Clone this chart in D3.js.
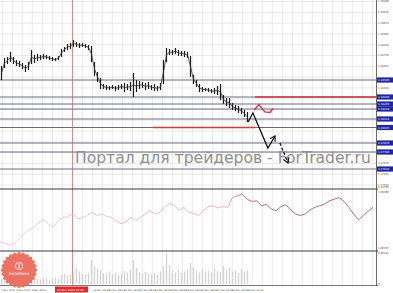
<html><head>
<script src="https://d3js.org/d3.v7.min.js"></script>
<style>
  body { margin: 0; background: #fff; }
  .tick line { stroke: #e2e2e2; stroke-width: 0.8px; }
  .domain { display: none; }
  text { font-family: "DejaVu Sans", sans-serif; }
</style>
</head>
<body>
<script>
// bar highs / lows (price), one bar every index
const barHigh = [1.1864,1.1872,1.1873,1.1878,1.1873,1.1870,1.1869,1.1867,1.1865,1.1868,
  1.1880,1.1875,1.1876,1.1875,1.1876,1.1875,1.1874,1.1873,1.1872,1.1874,
  1.1881,1.1883,1.1886,1.1887,1.1890,1.1888,1.1887,1.1887,1.1886,1.1885,
  1.1884,1.1868,1.1858,1.1852,1.1846,1.1845,1.1844,1.1845,1.1844,1.1845,
  1.1846,1.1847,1.1846,1.1848,1.1857,1.1850,1.1849,1.1848,1.1847,1.1848,
  1.1845,1.1846,1.1844,1.1847,1.1870,1.1882,1.1881,1.1880,1.1882,1.1880,
  1.1879,1.1879,1.1878,1.1874,1.1855,1.1850,1.1846,1.1843,1.1842,1.1842,
  1.1841,1.1842,1.1844,1.1846,1.1835,1.1832,1.1832,1.1827,1.1825,1.1824,
  1.1822,1.1820,1.1818]
const barLow = [1.1850,1.1862,1.1866,1.1868,1.1866,1.1864,1.1863,1.1861,1.1858,1.1860,
  1.1866,1.1867,1.1869,1.1870,1.1871,1.1871,1.1870,1.1869,1.1869,1.1870,
  1.1873,1.1878,1.1880,1.1881,1.1883,1.1883,1.1882,1.1883,1.1882,1.1880,
  1.1868,1.1854,1.1848,1.1841,1.1841,1.1840,1.1840,1.1841,1.1839,1.1840,
  1.1841,1.1838,1.1840,1.1839,1.1833,1.1838,1.1841,1.1842,1.1840,1.1841,
  1.1840,1.1839,1.1839,1.1840,1.1846,1.1868,1.1875,1.1875,1.1876,1.1874,
  1.1874,1.1873,1.1872,1.1853,1.1846,1.1843,1.1838,1.1838,1.1839,1.1838,
  1.1837,1.1836,1.1835,1.1830,1.1826,1.1824,1.1822,1.1820,1.1819,1.1817,
  1.1816,1.1813,1.1808]
const volumes = [420,510,380,560,470,390,520,610,450,380,720,540,480,430,520,460,390,500,560,480,
  820,950,760,880,1020,1500,1180,960,870,1090,
  2250,1650,1420,1280,1050,980,1160,920,1040,870,
  960,1230,1080,1340,2250,1520,1100,980,1150,1010,
  920,1060,880,1190,1650,2900,1750,1240,1090,1310,
  1020,1180,1370,1970,1540,1260,1100,1350,1180,1240,
  1090,1450,1210,1130,1680,1320,1500,1160,1280,1050,1390,1170,1240]
// indicator line (0..100 pane units)
const indicator = [13.9,11.1,8.4,11.1,19.5,27.8,34.5,38.9,47.3,51.1,44.5,38.9,50.0,54.5,56.7,61.1,
  52.8,54.5,58.4,63.9,58.4,61.1,56.7,55.6,48.9,44.5,47.3,55.6,50.0,55.6,61.1,66.7,61.1,63.9,
  72.3,78.9,75.0,67.8,72.3,63.9,62.3,58.4,66.7,73.4,75.0,71.1,73.4,72.3,88.9,91.7,94.5,86.1,
  82.3,83.4,75.0,77.8,69.5,66.7,73.4,76.7,67.8,61.1,58.4,61.1,67.8,72.3,75.0,77.8,83.4,86.1,
  88.9,82.3,72.3,61.1,51.1,58.4,65.6,72.3]

const priceTicks = [1.19290,1.19182,1.19074,1.18966,1.18858,1.18750,1.18642,1.18534,1.18426,
  1.18318,1.18210,1.18102,1.17994,1.17886,1.17778,1.17670,1.17562,1.17454]
const levelPrices = [1.1850,1.1833,1.1826,1.1821,1.1811,1.18025,1.1787,1.1778,1.1761]
const levelLabels = ["1.18500","1.18330","1.18260","1.18210","1.18110","1.18025","1.17870","1.17780","1.17610"]
const redFrom = [84.5, 50.5]
const redTo = [125, 84.5]
const redPrice = [1.1833, 1.18025]
const forecastSolid = [[82.2,1.1808],[83.8,1.1817],[88.8,1.1782],[91.2,1.1794]]
const forecastDashed = [[92.8,1.1787],[95.5,1.1767]]
const altPath = [[84.2,1.1820],[85.8,1.18255],[87.8,1.1818],[89.5,1.18175],[90.5,1.18215]]
const timeLabels = ["4 Nov 2020","5 Nov 2020","6 Nov 08:00","9 Nov 00:00","9 Nov 16:00","10 Nov 08:00",
  "10 Nov 16:00","11 Nov 08:00","11 Nov 16:00","12 Nov 08:00","12 Nov 16:00","13 Nov 08:00",
  "13 Nov 16:00","14 Nov 08:00","14 Nov 16:00","15 Nov 16:00","16 Nov 00:00"]
const markedTime = "10 Nov 2020 00:00"
const indLabels = ["1.14795","1.09399","1.00197","0.00241"]

const W = 393, H = 293, plotR = 376
const svg = d3.select("body").append("svg").attr("width", W).attr("height", H)

// scales
const x = d3.scaleLinear().domain([0, 125]).range([1.5, 376.5])
const yMain = d3.scaleLinear().domain([1.1742, 1.1930]).range([188, 0])
const xInd = d3.scaleLinear().domain([0, indicator.length - 1]).range([0, 373])
const yInd = d3.scaleLinear().domain([0, 100]).range([250, 191])
const yVol = d3.scaleLinear().domain([0, 3000]).range([284, 252])

// vertical grid
svg.append("g").selectAll("line").data(d3.range(2.3, plotR, 10)).join("line")
  .attr("x1", d => d).attr("x2", d => d).attr("y1", 0).attr("y2", 285)
  .attr("stroke", "#e4e4e4").attr("stroke-width", 0.8)

// horizontal grid + price labels (labels hidden under level tags)
const nearTag = p => levelPrices.some(l => Math.abs(yMain(l) - yMain(p)) < 4)
svg.append("g").attr("transform", "translate(" + plotR + ",0)")
  .call(d3.axisRight(yMain).tickValues(priceTicks).tickSize(-plotR).tickPadding(2)
    .tickFormat(d => nearTag(d) ? "" : d.toFixed(5)))
  .selectAll("text").attr("font-size", 2.6).attr("fill", "#444")

// level lines
svg.append("g").selectAll("line").data(levelPrices).join("line")
  .attr("x1", 0).attr("x2", plotR).attr("y1", d => yMain(d)).attr("y2", d => yMain(d))
  .attr("stroke", "#6a6a86").attr("stroke-width", 1)

svg.append("g").selectAll("line").data(redPrice).join("line")
  .attr("x1", (d, i) => x(redFrom[i])).attr("x2", (d, i) => Math.min(plotR, x(redTo[i])))
  .attr("y1", d => yMain(d)).attr("y2", d => yMain(d))
  .attr("stroke", "#cc3b3b").attr("stroke-width", 1.5)

// separator vertical line
svg.append("line").attr("x1", 72.6).attr("x2", 72.6).attr("y1", 0).attr("y2", 285)
  .attr("stroke", "#b97272").attr("stroke-width", 0.8)

// watermark, squeezed horizontally to fit 75..371
const wm = svg.append("text").attr("x", 0).attr("y", 0)
  .attr("font-size", 16.5).attr("fill", "#8e8e8e")
  .text("Портал для трейдеров - ForTrader.ru")
const wmLen = wm.node().getComputedTextLength()
wm.attr("transform", "translate(75,163) scale(" + (296 / wmLen) + ",1)")

// bars
const bars = svg.append("g")
bars.selectAll("line").data(barHigh).join("line")
  .attr("x1", (d, i) => x(i)).attr("x2", (d, i) => x(i))
  .attr("y1", d => yMain(d)).attr("y2", (d, i) => yMain(barLow[i]))
  .attr("stroke", "#1a1a1a").attr("stroke-width", 1.2)
bars.append("path")
  .attr("d", d3.line().x((d, i) => x(i)).y((d, i) => yMain((d + barLow[i]) / 2))(barHigh))
  .attr("fill", "none").attr("stroke", "#333").attr("stroke-width", 0.8)

// forecast arrows
const defs = svg.append("defs")
defs.append("marker").attr("id", "arr").attr("markerUnits", "userSpaceOnUse")
  .attr("markerWidth", 8).attr("markerHeight", 8).attr("refX", 6).attr("refY", 4)
  .attr("orient", "auto")
  .append("path").attr("d", "M1,1 L6,4 L1,7").attr("fill", "none")
  .attr("stroke", "#111").attr("stroke-width", 1.1)

const pline = d3.line().x(d => x(d[0])).y(d => yMain(d[1]))
svg.append("path").attr("d", pline(forecastSolid)).attr("fill", "none")
  .attr("stroke", "#111").attr("stroke-width", 1.3).attr("marker-end", "url(#arr)")
svg.append("path").attr("d", pline(forecastDashed)).attr("fill", "none")
  .attr("stroke", "#111").attr("stroke-width", 1.3).attr("stroke-dasharray", "3,2")
  .attr("marker-end", "url(#arr)")
svg.append("path").attr("d", pline(altPath)).attr("fill", "none")
  .attr("stroke", "#c8324a").attr("stroke-width", 1.3)

// indicator pane
const grad = defs.append("linearGradient").attr("id", "indg")
  .attr("gradientUnits", "userSpaceOnUse").attr("x1", 0).attr("x2", plotR).attr("y1", 0).attr("y2", 0)
grad.append("stop").attr("offset", 0).attr("stop-color", "#f2c6dc")
grad.append("stop").attr("offset", 0.6).attr("stop-color", "#e6b2cc")
grad.append("stop").attr("offset", 0.66).attr("stop-color", "#b06c9a")
grad.append("stop").attr("offset", 1).attr("stop-color", "#a8689a")
svg.append("path")
  .attr("d", d3.line().x((d, i) => xInd(i)).y(d => yInd(d))(indicator))
  .attr("fill", "none").attr("stroke", "url(#indg)").attr("stroke-width", 1)

// volume pane
svg.append("g").selectAll("line").data(volumes).join("line")
  .attr("x1", (d, i) => x(i)).attr("x2", (d, i) => x(i))
  .attr("y1", yVol(0)).attr("y2", d => yVol(d))
  .attr("stroke", "#d3d3d3").attr("stroke-width", 1.4)

// pane borders
svg.append("g").selectAll("line").data([189, 251]).join("line")
  .attr("x1", 0).attr("x2", 378).attr("y1", d => d).attr("y2", d => d)
  .attr("stroke", "#3a3a3a").attr("stroke-width", 1.2)
svg.append("line").attr("x1", 0).attr("x2", 378).attr("y1", 285.5).attr("y2", 285.5)
  .attr("stroke", "#555").attr("stroke-width", 0.8)
svg.append("line").attr("x1", plotR + 0.5).attr("x2", plotR + 0.5).attr("y1", 0).attr("y2", 286)
  .attr("stroke", "#444").attr("stroke-width", 0.8)

// indicator/volume labels
svg.append("g").selectAll("text").data(indLabels).join("text")
  .attr("x", 378).attr("y", (d, i) => [188, 193, 248.5, 254][i])
  .attr("font-size", 2.6).attr("fill", "#444").text(d => d)
svg.append("text").attr("x", 378).attr("y", 285).attr("font-size", 2.6).attr("fill", "#444").text("0")

// level tags on price axis
const tags = svg.append("g").selectAll("g").data(levelPrices).join("g")
  .attr("transform", d => "translate(377," + yMain(d) + ")")
tags.append("rect").attr("x", 0).attr("y", -2.6).attr("width", 16).attr("height", 5.2)
  .attr("fill", "#2424a0")
tags.append("text").attr("x", 1).attr("y", 1).attr("font-size", 2.7).attr("fill", "#fff")
  .text((d, i) => levelLabels[i])

// time axis labels (the ones under the marked-time box are not shown)
const tx = i => 1 + i * 15.4
svg.append("g").selectAll("text")
  .data(timeLabels.map((t, i) => [t, tx(i)]).filter(d => d[1] < 43 || d[1] > 88))
  .join("text")
  .attr("x", d => d[1]).attr("y", 290.5)
  .attr("font-size", 2.4).attr("fill", "#444").text(d => d[0])
svg.append("rect").attr("x", 55).attr("y", 286.5).attr("width", 33).attr("height", 6)
  .attr("fill", "#dd2a2a")
svg.append("text").attr("x", 57).attr("y", 290.8).attr("font-size", 2.8).attr("fill", "#fff")
  .text(markedTime)

// broker seal, bottom left
const cx = 19, cy = 270
const seal = d3.range(48).map(k => {
  const a = k / 48 * 2 * Math.PI, r = k % 2 ? 16.5 : 18.5
  return [cx + r * Math.cos(a), cy + r * Math.sin(a)]
})
svg.append("path").attr("d", d3.line()(seal) + "Z").attr("fill", "#ec6a5c").attr("opacity", 0.95)
svg.append("circle").attr("cx", cx).attr("cy", cy - 4).attr("r", 3.6)
  .attr("fill", "none").attr("stroke", "#fff").attr("stroke-width", 0.8)
svg.append("line").attr("x1", cx).attr("x2", cx).attr("y1", cy - 6.5).attr("y2", cy - 1.5)
  .attr("stroke", "#fff").attr("stroke-width", 0.8)
svg.append("text").attr("x", cx).attr("y", cy + 5).attr("text-anchor", "middle")
  .attr("font-size", 4).attr("fill", "#fff").text("InstaForex")
</script>
</body></html>
